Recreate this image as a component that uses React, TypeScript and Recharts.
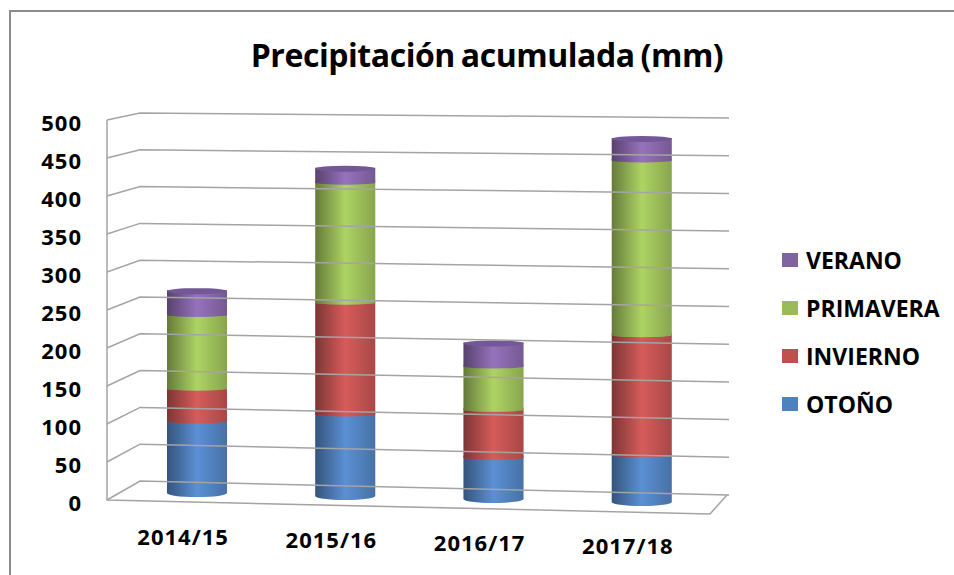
import { BarChart, Bar, XAxis, YAxis, Legend } from 'recharts'

const seasons = ['2014/15', '2015/16', '2016/17', '2017/18']
const otono = [97, 110, 57, 64]
const invierno = [43, 147, 63, 158]
const primavera = [97, 158, 57, 230]
const verano = [30, 17, 29, 27]
const yTicks = [0, 50, 100, 150, 200, 250, 300, 350, 400, 450, 500]

const data = seasons.map((season, i) => ({
  season,
  OTOÑO: otono[i],
  INVIERNO: invierno[i],
  PRIMAVERA: primavera[i],
  VERANO: verano[i],
}))

const font = '"Open Sans", sans-serif'
const gridColor = '#a4a4a4'
const RY = 4

// the picture is a tilted 3D chart: everything drifts down a little going right
const tilt = (cx: number) => (cx - 344) * 0.02

function Cylinder(props: any) {
  const { x, y, width, height, light, top, base } = props
  if (!height) return null
  const sy = y + tilt(x + width / 2) - RY
  const rx = width / 2
  // seams between segments are almost flat, only the foot has the full curve
  const ry = base ? RY : 2
  const by = sy + height + (base ? 0 : 2)
  const d = `M${x},${sy} L${x},${by} A${rx},${ry} 0 0 0 ${x + width},${by} L${x + width},${sy} Z`
  return (
    <g>
      <path d={d} fill={light} />
      <path d={d} fill="url(#shade)" />
      {top && <ellipse cx={x + rx} cy={sy + 1} rx={rx} ry={3} fill="#735796" />}
    </g>
  )
}

function WallTick(props: any) {
  const { x, y, payload } = props
  // front edge of the side wall, then the back wall corners
  const fx = x + 25
  const backL = 113 + (y - 120) * (368 / 380)
  const backR = 118 + (y - 120) * (377 / 380)
  return (
    <g>
      <polyline
        points={`${fx},${y} ${fx + 33},${backL} ${fx + 622},${backR}`}
        fill="none"
        stroke={gridColor}
        strokeWidth={1.5}
      />
      {payload.value === 0 && (
        <polyline
          points={`${fx},120 ${fx},${y} ${fx + 603},${y + 14} ${fx + 620},${backR}`}
          fill="none"
          stroke={gridColor}
          strokeWidth={1.5}
        />
      )}
      <text x={x} y={y + 11} textAnchor="end" fontFamily={font} fontWeight={700} fontSize={22} letterSpacing={1} fill="#000">
        {payload.value}
      </text>
    </g>
  )
}

function SeasonTick(props: any) {
  const { x, y, payload } = props
  return (
    <text x={x - 14} y={y + tilt(x) + 40} textAnchor="middle" fontFamily={font} fontWeight={700} fontSize={22} letterSpacing={1} fill="#000">
      {payload.value}
    </text>
  )
}

function SeasonLegend({ payload }: any) {
  const items = [...(payload || [])].reverse()
  return (
    <div style={{ position: 'absolute', left: 66, top: 116, fontFamily: font, fontWeight: 700, fontSize: 23 }}>
      {items.map((it: any) => (
        <div key={it.value} style={{ display: 'flex', alignItems: 'center', height: 48, whiteSpace: 'nowrap' }}>
          <span style={{ width: 16, height: 14, background: it.color, marginRight: 8 }} />
          {it.value}
        </div>
      ))}
    </div>
  )
}

export default function App() {
  return (
    <div style={{ position: 'absolute', left: 0, top: 0, width: 954, height: 575, background: '#fff' }}>
      <div style={{ position: 'absolute', left: 9, top: 10, width: 945, height: 565, borderLeft: '2px solid #8c8c8c', borderTop: '2px solid #8c8c8c', boxSizing: 'border-box' }} />
      <BarChart
        width={954}
        height={575}
        data={data}
        margin={{ top: 120, right: 0, bottom: 0, left: 0 }}
        barSize={60}
        style={{ position: 'absolute', left: 0, top: 0 }}
      >
        <defs>
          <linearGradient id="shade" x1="0" y1="0" x2="1" y2="0">
            <stop offset="0" stopColor="#000" stopOpacity={0.42} />
            <stop offset="0.5" stopColor="#000" stopOpacity={0} />
            <stop offset="1" stopColor="#000" stopOpacity={0.22} />
          </linearGradient>
        </defs>
        <text x={487} y={67} textAnchor="middle" fontFamily={font} fontWeight={700} fontSize={32} wordSpacing={-2} letterSpacing={-0.45} fill="#000">
          Precipitación acumulada (mm)
        </text>
        <XAxis dataKey="season" height={75} axisLine={false} tickLine={false} tick={<SeasonTick />} interval={0} />
        <YAxis width={123} domain={[0, 500]} ticks={yTicks} axisLine={false} tickLine={false} tickMargin={35} tick={<WallTick />} interval={0} />
        <Legend layout="vertical" align="right" verticalAlign="top" width={238} itemSorter={null} wrapperStyle={{ right: 0, top: 120 }} content={<SeasonLegend />} />
        <Bar dataKey="OTOÑO" stackId="a" fill="#4f81bd" isAnimationActive={false} shape={(p: any) => <Cylinder {...p} light="#5b90d4" base />} />
        <Bar dataKey="INVIERNO" stackId="a" fill="#c0504d" isAnimationActive={false} shape={(p: any) => <Cylinder {...p} light="#d65c5a" />} />
        <Bar dataKey="PRIMAVERA" stackId="a" fill="#9bbb59" isAnimationActive={false} shape={(p: any) => <Cylinder {...p} light="#aed364" />} />
        <Bar dataKey="VERANO" stackId="a" fill="#8064a2" isAnimationActive={false} shape={(p: any) => <Cylinder {...p} light="#9672bc" top />} />
      </BarChart>
    </div>
  )
}
